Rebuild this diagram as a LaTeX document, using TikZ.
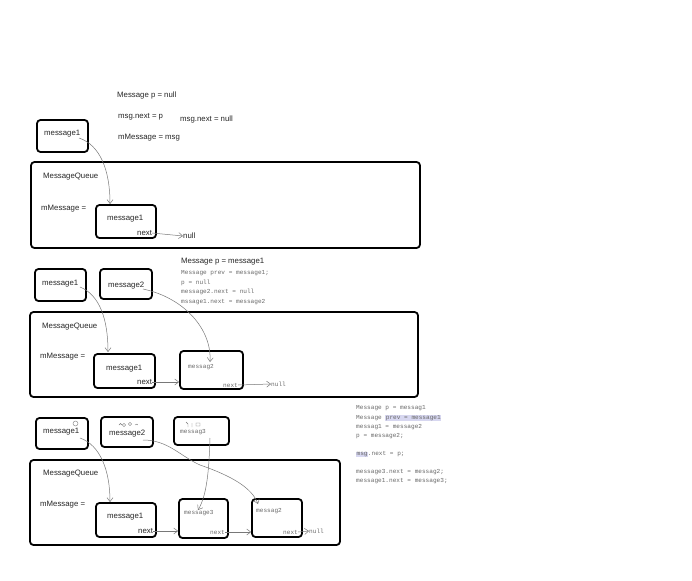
\documentclass[tikz,border=0pt]{standalone}
\usepackage{fontspec}
\usetikzlibrary{arrows.meta}
\newfontfamily\uifont{Liberation Sans}
\newfontfamily\codefont{Liberation Mono}
\definecolor{codegray}{RGB}{105,105,105}
\definecolor{hl}{RGB}{215,215,240}
\definecolor{conngray}{RGB}{120,120,120}
\tikzset{
  box/.style={draw, line width=1.8pt, rounded corners=3.5pt, inner sep=0pt},
  lbl/.style={anchor=west, inner sep=0pt, font=\uifont\fontsize{7.8}{9}\selectfont, text=black!85},
  code/.style={anchor=west, inner sep=0pt, font=\codefont\fontsize{6.1}{7}\selectfont, text=codegray},
  conn/.style={draw=conngray, line width=0.5pt, -{Straight Barb[length=4pt,width=6pt]}},
  scrib/.style={draw=conngray, line width=0.4pt}
}
\setlength\fboxsep{0.4pt}
\begin{document}
\begin{tikzpicture}[x=1pt,y=-1pt]
\useasboundingbox[fill=white] (0,0) rectangle (692,580);

% ---------------- Section 1 ----------------
\node[lbl] (h1a) at (117,95) {Message p = null};
\node[lbl] (h1b) at (118,117) {msg.next = p};
\node[lbl] (h1c) at (180,119) {msg.next = null};
\node[lbl] (h1d) at (118,138) {mMessage = msg};

\node[box, minimum width=51pt, minimum height=32pt] (b1a) at (62.5,136) {};
\node[lbl] (t1a) at (44,134) {message1};

\node[box, minimum width=389pt, minimum height=86pt] (q1) at (225.5,205) {};
\node[lbl] (mq1) at (43,177) {MessageQueue};
\node[lbl] (mm1) at (41,209) {mMessage =};

\node[box, minimum width=60pt, minimum height=33pt] (in1) at (126,221.5) {};
\node[lbl] (ti1) at (107,219) {message1};
\node[lbl] (nx1) at (137,233) {next};
\node[lbl] (nl1) at (183,236) {null};

\coordinate (c1s) at (79,138);
\coordinate (c1e) at (110,204);
\draw[conn] (c1s) .. controls (100,145) and (110,170) .. (c1e);
\draw[conn] (nx1.east) -- (nl1.west);

% ---------------- Section 2 ----------------
\node[box, minimum width=51pt, minimum height=32pt] (b2a) at (60.5,285) {};
\node[lbl] (t2a) at (42,284) {message1};
\node[box, minimum width=52pt, minimum height=30pt] (b2b) at (126,284) {};
\node[lbl] (t2b) at (108,286) {message2};

\node[lbl] (h2) at (181,262) {Message p = message1};
\node[code] (c2a) at (181,273) {Message prev = message1;};
\node[code] (c2b) at (181,283) {p = null};
\node[code] (c2c) at (181,292) {message2.next = null};
\node[code] (c2d) at (181,302) {mssage1.next = message2};

\node[box, minimum width=388pt, minimum height=85pt] (q2) at (224,354.5) {};
\node[lbl] (mq2) at (42,327) {MessageQueue};
\node[lbl] (mm2) at (40,357) {mMessage =};

\node[box, minimum width=61pt, minimum height=34pt] (in2a) at (124.5,371) {};
\node[lbl] (ti2a) at (106,369) {message1};
\node[lbl] (nx2a) at (137,382) {next};

\node[box, minimum width=63pt, minimum height=38pt] (in2b) at (211.5,370) {};
\node[code] (ti2b) at (188,367) {messag2};
\node[code] (nx2b) at (223,385) {next};
\node[code] (nl2) at (271,384) {null};

\coordinate (c2s) at (80,287);
\coordinate (c2e) at (108,352);
\draw[conn] (c2s) .. controls (100,295) and (108,320) .. (c2e);
\coordinate (c3s) at (143,289);
\coordinate (c3e) at (210,362);
\draw[conn] (c3s) .. controls (185,298) and (212,330) .. (c3e);
\draw[conn] (nx2a.east) -- (in2b.west |- nx2a.east);
\draw[conn] (nx2b.east) -- (nl2.west);

% ---------------- Section 3 ----------------
\node[box, minimum width=52pt, minimum height=31pt] (b3a) at (62,433.5) {};
\node[lbl] (t3a) at (43,432) {message1};
\draw[scrib] (75.5,423.5) circle (2.5pt);
\node[box, minimum width=52pt, minimum height=30pt] (b3b) at (127,432) {};
\node[lbl] (t3b) at (109,434) {message2};
\draw[scrib] (119,425) arc (180:0:1.5pt) (124,425) circle (1.6pt) (130,424) circle (1.6pt) (135,425) arc (160:20:1.5pt);
\node[box, minimum width=55pt, minimum height=28pt] (b3c) at (201.5,431) {};
\node[code] (t3c) at (180,432) {messag3};
\draw[scrib] (186,422) -- (188,424) -- (188,427) (192,423) -- (192,427) (196,423) rectangle (200,426);

\node[box, minimum width=310pt, minimum height=85pt] (q3) at (185,502.5) {};
\node[lbl] (mq3) at (43,474) {MessageQueue};
\node[lbl] (mm3) at (40,505) {mMessage =};

\node[box, minimum width=60pt, minimum height=34pt] (in3a) at (126,520) {};
\node[lbl] (ti3a) at (107,517) {message1};
\node[lbl] (nx3a) at (138,531) {next};

\node[box, minimum width=49pt, minimum height=39pt] (in3b) at (203.5,518.5) {};
\node[code] (ti3b) at (184,513) {message3};
\node[code] (nx3b) at (210,532) {next};

\node[box, minimum width=50pt, minimum height=38pt] (in3c) at (277,518) {};
\node[code] (ti3c) at (256,511) {messag2};
\node[code] (nx3c) at (283,532) {next};
\node[code] (nl3) at (309,531) {null};

\coordinate (c4s) at (80,438);
\coordinate (c4e) at (110,502);
\draw[conn] (c4s) .. controls (100,445) and (110,470) .. (c4e);
\coordinate (c5s) at (143,440);
\coordinate (c5m) at (200,465);
\coordinate (c5e) at (258,504);
\draw[conn] (c5s) .. controls (168,440) and (180,456) .. (c5m) .. controls (232,476) and (252,488) .. (c5e);
\coordinate (c6s) at (210,438);
\coordinate (c6e) at (198,510);
\draw[conn] (c6s) .. controls (209,470) and (207,495) .. (c6e);
\draw[conn] (nx3a.east) -- (in3b.west |- nx3a.east);
\draw[conn] (nx3b.east) -- (in3c.west |- nx3b.east);
\draw[conn] (nx3c.east) -- (nl3.west);

% ---------------- Right code block ----------------
\node[code] (r1) at (356,408) {Message p = messag1};
\node[code] (r2) at (356,418) {Message \colorbox{hl}{prev = message1}};
\node[code] (r3) at (356,427) {messag1 = message2};
\node[code] (r4) at (356,436) {p = message2;};
\node[code] (r5) at (356,454) {\colorbox{hl}{msg}.next = p;};
\node[code] (r6) at (356,472) {message3.next = messag2;};
\node[code] (r7) at (356,481) {message1.next = message3;};
\end{tikzpicture}
\end{document}
